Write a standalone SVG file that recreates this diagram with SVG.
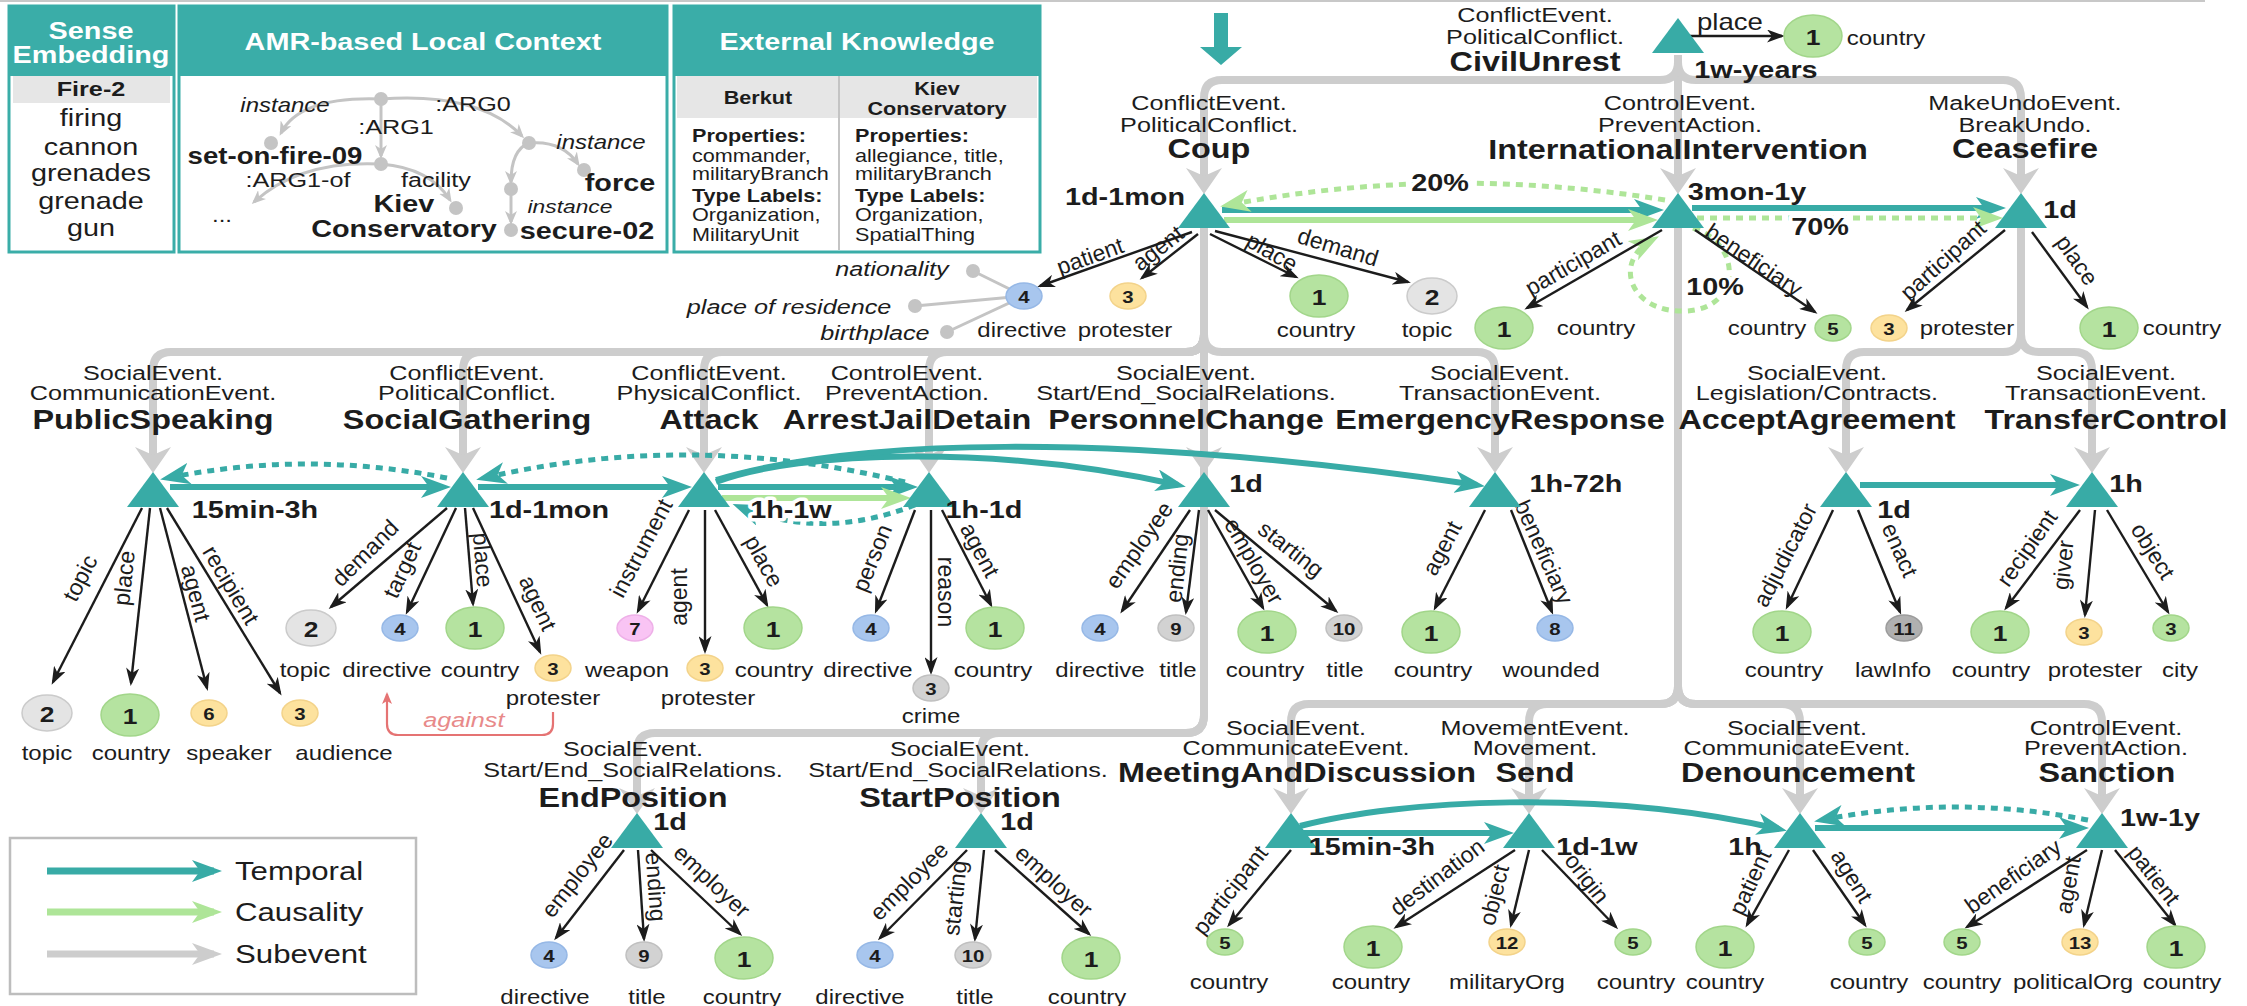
<svg xmlns="http://www.w3.org/2000/svg" width="2247" height="1006" viewBox="0 0 2247 1006">
<defs>
<style>
text{font-family:"Liberation Sans",Arial,Helvetica,sans-serif;fill:#1c1c1c;dominant-baseline:central;text-anchor:middle}
.h{transform-box:fill-box;transform-origin:center;transform:scaleX(1.2)}
.hl{transform-box:fill-box;transform-origin:0 50%;transform:scaleX(1.2);text-anchor:start}
.cat{font-size:21px}
.ev{font-size:27px;font-weight:bold}
.tm{font-size:24px;font-weight:bold}
.nl{font-size:20px}
.el{font-size:23px}
.nb{font-size:22px;font-weight:bold}
.ns{font-size:17px;font-weight:bold}
.it{font-style:italic}
.b{font-weight:bold}
.wh{fill:#fff}
.halo{stroke:#fff;stroke-width:7px;stroke-linejoin:round;paint-order:stroke}
.sub{fill:none;stroke:#cdcdcd;stroke-width:8;marker-end:url(#mG)}
.tp{fill:none;stroke:#38aba6;stroke-width:6;marker-end:url(#mT)}
.tpd{fill:none;stroke:#38aba6;stroke-width:5;stroke-dasharray:7 6;marker-end:url(#mT)}
.cs{fill:none;stroke:#aee598;stroke-width:6;marker-end:url(#mC)}
.csd{fill:none;stroke:#aee598;stroke-width:5;stroke-dasharray:7 6;marker-end:url(#mC)}
.ed{fill:none;stroke:#1c1c1c;stroke-width:2.4;marker-end:url(#mB)}
.amr{fill:none;stroke:#c4c4c4;stroke-width:3;marker-end:url(#mA)}
.att{stroke:#c4c4c4;stroke-width:3}
.dot{fill:#c4c4c4}
.g{fill:#b5e3a0;stroke:#a2d68a;stroke-width:1.5}
.gr{fill:#e4e4e4;stroke:#cbcbcb;stroke-width:1.5}
.gd{fill:#d2d2d2;stroke:#c0c0c0;stroke-width:1.5}
.gk{fill:#b0b0b0;stroke:#9c9c9c;stroke-width:1.5}
.bl{fill:#a8c6ee;stroke:#96b8e6;stroke-width:1.5}
.ye{fill:#fde29e;stroke:#f3d38a;stroke-width:1.5}
.pk{fill:#f9c4f4;stroke:#eeb0e8;stroke-width:1.5}
.tri{fill:#38aba6}
.pn{fill:#fff;stroke:#3aada8;stroke-width:3}
.ph{fill:#3aada8}
.row{fill:#e6e6e6}
</style>
<marker id="mT" viewBox="0 0 30 22" refX="22" refY="11" markerWidth="30" markerHeight="22" orient="auto" markerUnits="userSpaceOnUse"><path d="M0,0 L30,11 L0,22 L8,11 Z" fill="#38aba6"/></marker>
<marker id="mC" viewBox="0 0 30 22" refX="22" refY="11" markerWidth="30" markerHeight="22" orient="auto" markerUnits="userSpaceOnUse"><path d="M0,0 L30,11 L0,22 L8,11 Z" fill="#aee598"/></marker>
<marker id="mG" viewBox="0 0 26 36" refX="18" refY="18" markerWidth="26" markerHeight="36" orient="auto" markerUnits="userSpaceOnUse"><path d="M0,0 L26,18 L0,36 L8,18 Z" fill="#cdcdcd"/></marker>
<marker id="mGL" viewBox="0 0 30 22" refX="22" refY="11" markerWidth="30" markerHeight="22" orient="auto" markerUnits="userSpaceOnUse"><path d="M0,0 L30,11 L0,22 L8,11 Z" fill="#cdcdcd"/></marker>
<marker id="mB" viewBox="0 0 18 13" refX="15" refY="6.5" markerWidth="18" markerHeight="13" orient="auto" markerUnits="userSpaceOnUse"><path d="M0,0 L18,6.5 L0,13 L5,6.5 Z" fill="#1c1c1c"/></marker>
<marker id="mA" viewBox="0 0 14 12" refX="11" refY="6" markerWidth="14" markerHeight="12" orient="auto" markerUnits="userSpaceOnUse"><path d="M0,0 L14,6 L0,12 L4,6 Z" fill="#c4c4c4"/></marker>
<marker id="mR" viewBox="0 0 12 10" refX="10" refY="5" markerWidth="12" markerHeight="10" orient="auto" markerUnits="userSpaceOnUse"><path d="M0,0 L12,5 L0,10 L3,5 Z" fill="#e57373"/></marker>
<path id="tri" d="M0,0 L26,35 L-26,35 Z"/>
</defs>

<rect width="2247" height="1006" fill="#fff"/>
<line x1="0" y1="1" x2="2205" y2="1" stroke="#c8c8c8" stroke-width="2"/>

<!-- panel: sense embedding -->
<g id="panel-sense">
<rect class="pn" x="9" y="6" width="165" height="246"/>
<rect class="ph" x="9" y="6" width="165" height="70"/>
<rect class="row" x="13" y="76" width="157" height="27"/>
<text class="h b wh" font-size="24" x="91" y="31">Sense</text>
<text class="h b wh" font-size="24" x="91" y="55">Embedding</text>
<text class="h b" font-size="21" x="91" y="89">Fire-2</text>
<text class="h" font-size="24" x="91" y="118">firing</text>
<text class="h" font-size="24" x="91" y="147">cannon</text>
<text class="h" font-size="24" x="91" y="173">grenades</text>
<text class="h" font-size="24" x="91" y="201">grenade</text>
<text class="h" font-size="24" x="91" y="228">gun</text>
</g>

<!-- panel: AMR local context -->
<g id="panel-amr">
<rect class="pn" x="179" y="6" width="488" height="246"/>
<rect class="ph" x="179" y="6" width="488" height="70"/>
<text class="h b wh" font-size="24" x="423" y="42">AMR-based Local Context</text>
<path class="amr" d="M381,99 Q300,96 281,133"/>
<path class="amr" d="M381,99 V156"/>
<path class="amr" d="M381,99 Q480,92 522,136"/>
<path class="amr" d="M381,164 Q300,160 254,202"/>
<path class="amr" d="M381,164 Q430,168 450,200"/>
<path class="amr" d="M529,143 Q511,150 511,182"/>
<path class="amr" d="M511,189 V222"/>
<path class="amr" d="M529,143 Q562,140 578,164"/>
<circle class="dot" cx="381" cy="99" r="7"/>
<circle class="dot" cx="271" cy="143" r="7"/>
<circle class="dot" cx="381" cy="164" r="7"/>
<circle class="dot" cx="456" cy="208" r="7"/>
<circle class="dot" cx="529" cy="143" r="7"/>
<circle class="dot" cx="511" cy="189" r="7"/>
<circle class="dot" cx="511" cy="230" r="7"/>
<circle class="dot" cx="584" cy="170" r="7"/>
<text class="h it" font-size="20" x="285" y="105">instance</text>
<text class="h" font-size="21" x="473" y="104">:ARG0</text>
<text class="h" font-size="21" x="396" y="127">:ARG1</text>
<text class="h b" font-size="23" x="275" y="156">set-on-fire-09</text>
<text class="h" font-size="21" x="298" y="180">:ARG1-of</text>
<text class="h" font-size="21" x="436" y="180">facility</text>
<text class="h" font-size="20" x="222" y="215">...</text>
<text class="h b" font-size="24" x="404" y="204">Kiev</text>
<text class="h b" font-size="24" x="404" y="229">Conservatory</text>
<text class="h it" font-size="20" x="601" y="142">instance</text>
<text class="h b" font-size="24" x="620" y="183">force</text>
<text class="h it" font-size="19" x="570" y="206">instance</text>
<text class="h b" font-size="24" x="587" y="231">secure-02</text>
</g>

<!-- panel: external knowledge -->
<g id="panel-knowledge">
<rect class="pn" x="674" y="6" width="366" height="246"/>
<rect class="ph" x="674" y="6" width="366" height="70"/>
<rect class="row" x="677" y="76" width="360" height="42"/>
<line x1="839" y1="76" x2="839" y2="250" stroke="#c4c4c4" stroke-width="2"/>
<text class="h b wh" font-size="24" x="857" y="42">External Knowledge</text>
<text class="h b" font-size="18" x="758" y="98">Berkut</text>
<text class="h b" font-size="18" x="937" y="89">Kiev</text>
<text class="h b" font-size="18" x="937" y="109">Conservatory</text>
<text class="hl b" font-size="18" x="692" y="136">Properties:</text>
<text class="hl" font-size="18" x="692" y="156">commander,</text>
<text class="hl" font-size="18" x="692" y="174">militaryBranch</text>
<text class="hl b" font-size="18" x="692" y="196">Type Labels:</text>
<text class="hl" font-size="18" x="692" y="215">Organization,</text>
<text class="hl" font-size="18" x="692" y="235">MilitaryUnit</text>
<text class="hl b" font-size="18" x="855" y="136">Properties:</text>
<text class="hl" font-size="18" x="855" y="156">allegiance, title,</text>
<text class="hl" font-size="18" x="855" y="174">militaryBranch</text>
<text class="hl b" font-size="18" x="855" y="196">Type Labels:</text>
<text class="hl" font-size="18" x="855" y="215">Organization,</text>
<text class="hl" font-size="18" x="855" y="235">SpatialThing</text>
</g>

<!-- block arrow into the event graph -->
<polygon id="entry-arrow" points="1214,13 1228,13 1228,47 1242,47 1221,65 1200,47 1214,47" fill="#38aba6"/>

<!-- legend -->
<g id="legend">
<rect x="10" y="838" width="406" height="156" fill="#fff" stroke="#bdbdbd" stroke-width="2.5"/>
<path d="M47,871 H214" fill="none" stroke="#38aba6" stroke-width="7" marker-end="url(#mT)"/>
<path d="M47,912 H214" fill="none" stroke="#aee598" stroke-width="7" marker-end="url(#mC)"/>
<path d="M47,954 H214" fill="none" stroke="#cdcdcd" stroke-width="7" marker-end="url(#mGL)"/>
<text class="hl" font-size="26" x="235" y="871">Temporal</text>
<text class="hl" font-size="26" x="235" y="912">Causality</text>
<text class="hl" font-size="26" x="235" y="954">Subevent</text>
</g>

<!-- connectors -->
<g id="connectors">
<!-- subevent hierarchy -->
<path class="sub" d="M1678,55 V186"/>
<path class="sub" d="M1678,62 Q1678,80 1660,80 H1222 Q1204,80 1204,98 V186"/>
<path class="sub" d="M1678,62 Q1678,80 1696,80 H2003 Q2021,80 2021,98 V186"/>
<path class="sub" d="M1204,228 V334 Q1204,352 1186,352 H171 Q153,352 153,370 V465"/>
<path class="sub" d="M1204,334 Q1204,352 1186,352 H481 Q463,352 463,370 V465"/>
<path class="sub" d="M1204,334 Q1204,352 1186,352 H722 Q704,352 704,370 V465"/>
<path class="sub" d="M1204,334 Q1204,352 1186,352 H947 Q929,352 929,370 V465"/>
<path class="sub" d="M1204,228 V465"/>
<path class="sub" d="M1204,334 Q1204,352 1222,352 H1477 Q1495,352 1495,370 V465"/>
<path class="sub" d="M1204,228 V715 Q1204,733 1186,733 H999 Q981,733 981,751 V806"/>
<path class="sub" d="M1204,715 Q1204,733 1186,733 H655 Q637,733 637,751 V806"/>
<path class="sub" d="M2021,228 V334 Q2021,352 2003,352 H1864 Q1846,352 1846,370 V465"/>
<path class="sub" d="M2021,334 Q2021,352 2039,352 H2074 Q2092,352 2092,370 V465"/>
<path class="sub" d="M1678,228 V686 Q1678,704 1660,704 H1309 Q1291,704 1291,722 V806"/>
<path class="sub" d="M1678,686 Q1678,704 1660,704 H1547 Q1529,704 1529,722 V806"/>
<path class="sub" d="M1678,686 Q1678,704 1696,704 H1782 Q1800,704 1800,722 V806"/>
<path class="sub" d="M1678,686 Q1678,704 1696,704 H2084 Q2102,704 2102,722 V806"/>

<!-- temporal -->
<path class="tp" d="M1222,210 H1656"/>
<path class="tp" d="M1692,208 H1998"/>
<path class="tp" d="M170,487 H443"/>
<path class="tp" d="M478,487 H684"/>
<path class="tp" d="M718,487 H910"/>
<path class="tp" d="M716,482 C800,450 1000,445 1178,485"/>
<path class="tp" d="M716,480 C850,440 1100,430 1477,485"/>
<path class="tp" d="M1860,485 H2072"/>
<path class="tp" d="M1302,833 H1506"/>
<path class="tp" d="M1300,826 C1400,800 1600,788 1779,829"/>
<path class="tp" d="M1815,828 H2081"/>
<path class="tpd" d="M447,478 Q305,450 168,478"/>
<path class="tpd" d="M905,482 Q690,430 484,478"/>
<path class="tpd" d="M915,505 Q823,541 740,507"/>
<path class="tpd" d="M2088,820 Q1955,794 1822,820"/>

<!-- causality -->
<path class="cs" d="M1224,220 H1650"/>
<path class="cs" d="M722,498 H903"/>
<path class="csd" d="M1665,200 Q1443,164 1228,205"/>
<path class="csd" d="M1697,218 H1995"/>
<path class="csd" d="M1693,228 C1745,245 1740,310 1685,311 C1630,313 1612,262 1652,240"/>

<!-- attributes of the directive -->
<line class="att" x1="1024" y1="296" x2="973" y2="271"/>
<line class="att" x1="1024" y1="296" x2="915" y2="306"/>
<line class="att" x1="1024" y1="296" x2="947" y2="332"/>
<circle class="dot" cx="973" cy="271" r="7"/>
<circle class="dot" cx="915" cy="306" r="7"/>
<circle class="dot" cx="947" cy="332" r="7"/>

<!-- argument roles -->
<path class="ed" d="M1192,232 L1040,286"/>
<path class="ed" d="M1198,234 L1142,278"/>
<path class="ed" d="M1210,234 L1296,277"/>
<path class="ed" d="M1215,231 L1408,282"/>
<path class="ed" d="M1690,36 L1782,36"/>
<path class="ed" d="M1662,230 L1527,308"/>
<path class="ed" d="M1695,230 L1815,312"/>
<path class="ed" d="M2005,230 L1907,310"/>
<path class="ed" d="M2032,232 L2087,307"/>
<path class="ed" d="M142,508 L53,682"/>
<path class="ed" d="M150,508 L131,683"/>
<path class="ed" d="M160,508 L207,688"/>
<path class="ed" d="M167,508 L280,693"/>
<path class="ed" d="M447,508 L331,607"/>
<path class="ed" d="M456,508 L407,612"/>
<path class="ed" d="M465,508 L473,604"/>
<path class="ed" d="M473,508 L540,652"/>
<path class="ed" d="M689,510 L638,611"/>
<path class="ed" d="M705,510 L705,651"/>
<path class="ed" d="M715,510 L767,605"/>
<path class="ed" d="M915,510 L876,611"/>
<path class="ed" d="M931,510 L931,672"/>
<path class="ed" d="M942,510 L991,605"/>
<path class="ed" d="M1190,510 L1122,611"/>
<path class="ed" d="M1199,510 L1186,612"/>
<path class="ed" d="M1208,510 L1263,608"/>
<path class="ed" d="M1215,510 L1336,611"/>
<path class="ed" d="M1485,510 L1435,608"/>
<path class="ed" d="M1511,510 L1552,612"/>
<path class="ed" d="M1833,510 L1787,607"/>
<path class="ed" d="M1858,510 L1900,612"/>
<path class="ed" d="M2080,510 L2006,608"/>
<path class="ed" d="M2095,510 L2085,615"/>
<path class="ed" d="M2107,510 L2168,612"/>
<path class="ed" d="M624,850 L556,938"/>
<path class="ed" d="M638,850 L644,939"/>
<path class="ed" d="M651,850 L740,934"/>
<path class="ed" d="M967,850 L880,938"/>
<path class="ed" d="M984,850 L975,939"/>
<path class="ed" d="M995,850 L1089,934"/>
<path class="ed" d="M1291,850 L1229,925"/>
<path class="ed" d="M1515,850 L1396,927"/>
<path class="ed" d="M1529,850 L1511,925"/>
<path class="ed" d="M1542,850 L1616,927"/>
<path class="ed" d="M1789,850 L1747,925"/>
<path class="ed" d="M1813,850 L1865,925"/>
<path class="ed" d="M2087,850 L1967,927"/>
<path class="ed" d="M2102,850 L2084,925"/>
<path class="ed" d="M2115,850 L2175,925"/>

<!-- against relation -->
<path d="M553,712 V724 Q553,735 542,735 H398 Q387,735 387,724 V694" fill="none" stroke="#e57373" stroke-width="2.2" marker-end="url(#mR)"/>

<!-- role labels -->
<g class="el">
<text transform="translate(1090,256) rotate(-20)">patient</text>
<text transform="translate(1158,248) rotate(-38)">agent</text>
<text transform="translate(1272,252) rotate(30)">place</text>
<text transform="translate(1338,247) rotate(17)">demand</text>
<text class="h" x="1730" y="22">place</text>
<text transform="translate(1573,263) rotate(-30)">participant</text>
<text transform="translate(1754,260) rotate(34)">beneficiary</text>
<text transform="translate(1943,260) rotate(-42)">participant</text>
<text transform="translate(2077,260) rotate(55)">place</text>
<text transform="translate(80,578) rotate(-63)">topic</text>
<text transform="translate(124,578) rotate(-84)">place</text>
<text transform="translate(196,593) rotate(75)">agent</text>
<text transform="translate(231,585) rotate(59)">recipient</text>
<text transform="translate(365,553) rotate(-45)">demand</text>
<text transform="translate(402,570) rotate(-65)">target</text>
<text transform="translate(483,560) rotate(85)">place</text>
<text transform="translate(538,603) rotate(65)">agent</text>
<text transform="translate(641,548) rotate(-62)">instrument</text>
<text transform="translate(679,597) rotate(-90)">agent</text>
<text transform="translate(764,561) rotate(61)">place</text>
<text transform="translate(872,558) rotate(-68)">person</text>
<text transform="translate(946,592) rotate(90)">reason</text>
<text transform="translate(980,550) rotate(62)">agent</text>
<text transform="translate(1139,545) rotate(-55)">employee</text>
<text transform="translate(1177,568) rotate(-84)">ending</text>
<text transform="translate(1254,561) rotate(60)">employer</text>
<text transform="translate(1291,549) rotate(38)">starting</text>
<text transform="translate(1442,548) rotate(-62)">agent</text>
<text transform="translate(1544,552) rotate(66)">beneficiary</text>
<text transform="translate(1785,555) rotate(-63)">adjudicator</text>
<text transform="translate(1900,550) rotate(66)">enact</text>
<text transform="translate(2027,548) rotate(-55)">recipient</text>
<text transform="translate(2063,565) rotate(-84)">giver</text>
<text transform="translate(2153,551) rotate(58)">object</text>
<text transform="translate(577,875) rotate(-52)">employee</text>
<text transform="translate(656,887) rotate(86)">ending</text>
<text transform="translate(712,881) rotate(43)">employer</text>
<text transform="translate(909,881) rotate(-45)">employee</text>
<text transform="translate(955,898) rotate(-84)">starting</text>
<text transform="translate(1054,881) rotate(42)">employer</text>
<text transform="translate(1230,890) rotate(-52)">participant</text>
<text transform="translate(1437,877) rotate(-37)">destination</text>
<text transform="translate(1494,895) rotate(-76)">object</text>
<text transform="translate(1587,878) rotate(52)">origin</text>
<text transform="translate(1750,882) rotate(-65)">patient</text>
<text transform="translate(1852,876) rotate(58)">agent</text>
<text transform="translate(2013,876) rotate(-35)">beneficiary</text>
<text transform="translate(2068,885) rotate(-80)">agent</text>
<text transform="translate(2154,875) rotate(52)">patient</text>
</g>
<text class="h it" font-size="21" x="464" y="720" style="fill:#e88a8a">against</text>
<text class="h it" font-size="21" x="892" y="269">nationality</text>
<text class="h it" font-size="21" x="789" y="307">place of residence</text>
<text class="h it" font-size="21" x="875" y="333">birthplace</text>
<text class="tm h halo" x="1440" y="183">20%</text>
<text class="tm h halo" x="1820" y="227">70%</text>
<text class="tm h halo" x="1715" y="287">10%</text>
</g>

<!-- event nodes -->
<g id="ev-civilunrest"><use href="#tri" class="tri" x="1678" y="18"/>
<text class="cat h" x="1535" y="15">ConflictEvent.</text><text class="cat h" x="1535" y="37">PoliticalConflict.</text><text class="ev h" x="1535" y="62">CivilUnrest</text><text class="tm h" x="1756" y="70">1w-years</text></g>
<g id="ev-coup"><use href="#tri" class="tri" x="1204" y="193"/>
<text class="cat h" x="1209" y="103">ConflictEvent.</text><text class="cat h" x="1209" y="125">PoliticalConflict.</text><text class="ev h" x="1209" y="149">Coup</text><text class="tm h" x="1125" y="197">1d-1mon</text></g>
<g id="ev-intervention"><use href="#tri" class="tri" x="1678" y="193"/>
<text class="cat h" x="1680" y="103">ControlEvent.</text><text class="cat h" x="1680" y="125">PreventAction.</text><text class="ev h" x="1678" y="150">InternationalIntervention</text><text class="tm h" x="1747" y="192">3mon-1y</text></g>
<g id="ev-ceasefire"><use href="#tri" class="tri" x="2021" y="193"/>
<text class="cat h" x="2025" y="103">MakeUndoEvent.</text><text class="cat h" x="2025" y="125">BreakUndo.</text><text class="ev h" x="2025" y="148">Ceasefire</text><text class="tm h" x="2060" y="210">1d</text></g>

<g id="ev-publicspeaking"><use href="#tri" class="tri" x="153" y="472"/>
<text class="cat h" x="153" y="373">SocialEvent.</text><text class="cat h" x="153" y="393">CommunicationEvent.</text><text class="ev h" x="153" y="420">PublicSpeaking</text><text class="tm h" x="255" y="510">15min-3h</text></g>
<g id="ev-socialgathering"><use href="#tri" class="tri" x="463" y="472"/>
<text class="cat h" x="467" y="373">ConflictEvent.</text><text class="cat h" x="467" y="393">PoliticalConflict.</text><text class="ev h" x="467" y="420">SocialGathering</text><text class="tm h" x="549" y="510">1d-1mon</text></g>
<g id="ev-attack"><use href="#tri" class="tri" x="704" y="472"/>
<text class="cat h" x="709" y="373">ConflictEvent.</text><text class="cat h" x="709" y="393">PhysicalConflict.</text><text class="ev h" x="709" y="420">Attack</text><text class="tm h halo" x="791" y="510">1h-1w</text></g>
<g id="ev-arrest"><use href="#tri" class="tri" x="929" y="472"/>
<text class="cat h" x="907" y="373">ControlEvent.</text><text class="cat h" x="907" y="393">PreventAction.</text><text class="ev h" x="907" y="420">ArrestJailDetain</text><text class="tm h" x="984" y="510">1h-1d</text></g>
<g id="ev-personnelchange"><use href="#tri" class="tri" x="1204" y="472"/>
<text class="cat h" x="1186" y="373">SocialEvent.</text><text class="cat h" x="1186" y="393">Start/End_SocialRelations.</text><text class="ev h" x="1186" y="420">PersonnelChange</text><text class="tm h" x="1246" y="484">1d</text></g>
<g id="ev-emergency"><use href="#tri" class="tri" x="1495" y="472"/>
<text class="cat h" x="1500" y="373">SocialEvent.</text><text class="cat h" x="1500" y="393">TransactionEvent.</text><text class="ev h" x="1500" y="420">EmergencyResponse</text><text class="tm h" x="1576" y="484">1h-72h</text></g>
<g id="ev-acceptagreement"><use href="#tri" class="tri" x="1846" y="472"/>
<text class="cat h" x="1817" y="373">SocialEvent.</text><text class="cat h" x="1817" y="393">Legislation/Contracts.</text><text class="ev h" x="1817" y="420">AcceptAgreement</text><text class="tm h" x="1894" y="510">1d</text></g>
<g id="ev-transfercontrol"><use href="#tri" class="tri" x="2092" y="472"/>
<text class="cat h" x="2106" y="373">SocialEvent.</text><text class="cat h" x="2106" y="393">TransactionEvent.</text><text class="ev h" x="2106" y="420">TransferControl</text><text class="tm h" x="2126" y="484">1h</text></g>

<g id="ev-endposition"><use href="#tri" class="tri" x="637" y="813"/>
<text class="cat h" x="633" y="749">SocialEvent.</text><text class="cat h" x="633" y="770">Start/End_SocialRelations.</text><text class="ev h" x="633" y="797">EndPosition</text><text class="tm h" x="670" y="822">1d</text></g>
<g id="ev-startposition"><use href="#tri" class="tri" x="981" y="813"/>
<text class="cat h" x="960" y="749">SocialEvent.</text><text class="cat h" x="958" y="770">Start/End_SocialRelations.</text><text class="ev h" x="960" y="797">StartPosition</text><text class="tm h" x="1017" y="822">1d</text></g>
<g id="ev-meeting"><use href="#tri" class="tri" x="1291" y="813"/>
<text class="cat h" x="1296" y="728">SocialEvent.</text><text class="cat h" x="1296" y="748">CommunicateEvent.</text><text class="ev h" x="1297" y="773">MeetingAndDiscussion</text><text class="tm h" x="1372" y="847">15min-3h</text></g>
<g id="ev-send"><use href="#tri" class="tri" x="1529" y="813"/>
<text class="cat h" x="1535" y="728">MovementEvent.</text><text class="cat h" x="1535" y="748">Movement.</text><text class="ev h" x="1535" y="773">Send</text><text class="tm h" x="1597" y="847">1d-1w</text></g>
<g id="ev-denouncement"><use href="#tri" class="tri" x="1800" y="813"/>
<text class="cat h" x="1797" y="728">SocialEvent.</text><text class="cat h" x="1797" y="748">CommunicateEvent.</text><text class="ev h" x="1798" y="773">Denouncement</text><text class="tm h" x="1745" y="847">1h</text></g>
<g id="ev-sanction"><use href="#tri" class="tri" x="2102" y="813"/>
<text class="cat h" x="2106" y="728">ControlEvent.</text><text class="cat h" x="2106" y="748">PreventAction.</text><text class="ev h" x="2107" y="773">Sanction</text><text class="tm h" x="2160" y="818">1w-1y</text></g>

<!-- argument nodes -->
<g id="arg-cu-country"><ellipse class="g" cx="1813" cy="36" rx="29" ry="21"/><text class="nb h" x="1813" y="37">1</text><text class="nl h" x="1886" y="38">country</text></g>
<g id="arg-coup-directive"><ellipse class="bl" cx="1024" cy="296" rx="18" ry="13"/><text class="ns h" x="1024" y="297">4</text><text class="nl h" x="1022" y="330">directive</text></g>
<g id="arg-coup-protester"><ellipse class="ye" cx="1128" cy="296" rx="18" ry="13"/><text class="ns h" x="1128" y="297">3</text><text class="nl h" x="1125" y="330">protester</text></g>
<g id="arg-coup-country"><ellipse class="g" cx="1319" cy="296" rx="29" ry="21"/><text class="nb h" x="1319" y="297">1</text><text class="nl h" x="1316" y="330">country</text></g>
<g id="arg-coup-topic"><ellipse class="gr" cx="1432" cy="296" rx="25" ry="18"/><text class="nb h" x="1432" y="297">2</text><text class="nl h" x="1427" y="330">topic</text></g>
<g id="arg-ii-country"><ellipse class="g" cx="1504" cy="328" rx="29" ry="21"/><text class="nb h" x="1504" y="329">1</text><text class="nl h" x="1596" y="328">country</text></g>
<g id="arg-ii-beneficiary"><ellipse class="g" cx="1833" cy="328" rx="18" ry="13"/><text class="ns h" x="1833" y="329">5</text><text class="nl h" x="1767" y="328">country</text></g>
<g id="arg-cf-protester"><ellipse class="ye" cx="1889" cy="328" rx="18" ry="13"/><text class="ns h" x="1889" y="329">3</text><text class="nl h" x="1967" y="328">protester</text></g>
<g id="arg-cf-country"><ellipse class="g" cx="2109" cy="328" rx="29" ry="21"/><text class="nb h" x="2109" y="329">1</text><text class="nl h" x="2182" y="328">country</text></g>

<g id="arg-ps-topic"><ellipse class="gr" cx="47" cy="713" rx="25" ry="18"/><text class="nb h" x="47" y="714">2</text><text class="nl h" x="47" y="753">topic</text></g>
<g id="arg-ps-country"><ellipse class="g" cx="130" cy="715" rx="29" ry="21"/><text class="nb h" x="130" y="716">1</text><text class="nl h" x="131" y="753">country</text></g>
<g id="arg-ps-speaker"><ellipse class="ye" cx="209" cy="713" rx="18" ry="13"/><text class="ns h" x="209" y="714">6</text><text class="nl h" x="229" y="753">speaker</text></g>
<g id="arg-ps-audience"><ellipse class="ye" cx="300" cy="713" rx="18" ry="13"/><text class="ns h" x="300" y="714">3</text><text class="nl h" x="344" y="753">audience</text></g>
<g id="arg-sg-topic"><ellipse class="gr" cx="311" cy="628" rx="25" ry="18"/><text class="nb h" x="311" y="629">2</text><text class="nl h" x="305" y="670">topic</text></g>
<g id="arg-sg-directive"><ellipse class="bl" cx="400" cy="628" rx="18" ry="13"/><text class="ns h" x="400" y="629">4</text><text class="nl h" x="387" y="670">directive</text></g>
<g id="arg-sg-country"><ellipse class="g" cx="475" cy="628" rx="29" ry="21"/><text class="nb h" x="475" y="629">1</text><text class="nl h" x="480" y="670">country</text></g>
<g id="arg-sg-protester"><ellipse class="ye" cx="553" cy="668" rx="18" ry="13"/><text class="ns h" x="553" y="669">3</text><text class="nl h" x="553" y="698">protester</text></g>
<g id="arg-at-weapon"><ellipse class="pk" cx="635" cy="628" rx="18" ry="13"/><text class="ns h" x="635" y="629">7</text><text class="nl h" x="627" y="670">weapon</text></g>
<g id="arg-at-protester"><ellipse class="ye" cx="705" cy="668" rx="18" ry="13"/><text class="ns h" x="705" y="669">3</text><text class="nl h" x="708" y="698">protester</text></g>
<g id="arg-at-country"><ellipse class="g" cx="773" cy="628" rx="29" ry="21"/><text class="nb h" x="773" y="629">1</text><text class="nl h" x="774" y="670">country</text></g>
<g id="arg-aj-directive"><ellipse class="bl" cx="871" cy="628" rx="18" ry="13"/><text class="ns h" x="871" y="629">4</text><text class="nl h" x="868" y="670">directive</text></g>
<g id="arg-aj-crime"><ellipse class="gd" cx="931" cy="688" rx="18" ry="13"/><text class="ns h" x="931" y="689">3</text><text class="nl h" x="931" y="716">crime</text></g>
<g id="arg-aj-country"><ellipse class="g" cx="995" cy="628" rx="29" ry="21"/><text class="nb h" x="995" y="629">1</text><text class="nl h" x="993" y="670">country</text></g>
<g id="arg-pc-directive"><ellipse class="bl" cx="1100" cy="628" rx="18" ry="13"/><text class="ns h" x="1100" y="629">4</text><text class="nl h" x="1100" y="670">directive</text></g>
<g id="arg-pc-title1"><ellipse class="gd" cx="1176" cy="628" rx="18" ry="13"/><text class="ns h" x="1176" y="629">9</text><text class="nl h" x="1178" y="670">title</text></g>
<g id="arg-pc-country"><ellipse class="g" cx="1267" cy="632" rx="29" ry="21"/><text class="nb h" x="1267" y="633">1</text><text class="nl h" x="1265" y="670">country</text></g>
<g id="arg-pc-title2"><ellipse class="gd" cx="1344" cy="628" rx="18" ry="13"/><text class="ns h" x="1344" y="629">10</text><text class="nl h" x="1345" y="670">title</text></g>
<g id="arg-er-country"><ellipse class="g" cx="1431" cy="632" rx="29" ry="21"/><text class="nb h" x="1431" y="633">1</text><text class="nl h" x="1433" y="670">country</text></g>
<g id="arg-er-wounded"><ellipse class="bl" cx="1555" cy="628" rx="18" ry="13"/><text class="ns h" x="1555" y="629">8</text><text class="nl h" x="1551" y="670">wounded</text></g>
<g id="arg-aa-country"><ellipse class="g" cx="1782" cy="632" rx="29" ry="21"/><text class="nb h" x="1782" y="633">1</text><text class="nl h" x="1784" y="670">country</text></g>
<g id="arg-aa-lawinfo"><ellipse class="gk" cx="1904" cy="628" rx="18" ry="13"/><text class="ns h" x="1904" y="629">11</text><text class="nl h" x="1893" y="670">lawInfo</text></g>
<g id="arg-tc-country"><ellipse class="g" cx="2000" cy="632" rx="29" ry="21"/><text class="nb h" x="2000" y="633">1</text><text class="nl h" x="1991" y="670">country</text></g>
<g id="arg-tc-protester"><ellipse class="ye" cx="2084" cy="632" rx="18" ry="13"/><text class="ns h" x="2084" y="633">3</text><text class="nl h" x="2095" y="670">protester</text></g>
<g id="arg-tc-city"><ellipse class="g" cx="2171" cy="628" rx="18" ry="13"/><text class="ns h" x="2171" y="629">3</text><text class="nl h" x="2180" y="670">city</text></g>

<g id="arg-ep-directive"><ellipse class="bl" cx="549" cy="955" rx="18" ry="13"/><text class="ns h" x="549" y="956">4</text><text class="nl h" x="545" y="997">directive</text></g>
<g id="arg-ep-title"><ellipse class="gd" cx="644" cy="955" rx="18" ry="13"/><text class="ns h" x="644" y="956">9</text><text class="nl h" x="647" y="997">title</text></g>
<g id="arg-ep-country"><ellipse class="g" cx="744" cy="958" rx="29" ry="21"/><text class="nb h" x="744" y="959">1</text><text class="nl h" x="742" y="997">country</text></g>
<g id="arg-sp-directive"><ellipse class="bl" cx="875" cy="955" rx="18" ry="13"/><text class="ns h" x="875" y="956">4</text><text class="nl h" x="860" y="997">directive</text></g>
<g id="arg-sp-title"><ellipse class="gd" cx="973" cy="955" rx="18" ry="13"/><text class="ns h" x="973" y="956">10</text><text class="nl h" x="975" y="997">title</text></g>
<g id="arg-sp-country"><ellipse class="g" cx="1091" cy="958" rx="29" ry="21"/><text class="nb h" x="1091" y="959">1</text><text class="nl h" x="1087" y="997">country</text></g>
<g id="arg-md-country"><ellipse class="g" cx="1225" cy="942" rx="18" ry="13"/><text class="ns h" x="1225" y="943">5</text><text class="nl h" x="1229" y="982">country</text></g>
<g id="arg-sd-destination"><ellipse class="g" cx="1373" cy="947" rx="29" ry="21"/><text class="nb h" x="1373" y="948">1</text><text class="nl h" x="1371" y="982">country</text></g>
<g id="arg-sd-military"><ellipse class="ye" cx="1507" cy="942" rx="18" ry="13"/><text class="ns h" x="1507" y="943">12</text><text class="nl h" x="1507" y="982">militaryOrg</text></g>
<g id="arg-sd-origin"><ellipse class="g" cx="1633" cy="942" rx="18" ry="13"/><text class="ns h" x="1633" y="943">5</text><text class="nl h" x="1636" y="982">country</text></g>
<g id="arg-dn-patient"><ellipse class="g" cx="1725" cy="947" rx="29" ry="21"/><text class="nb h" x="1725" y="948">1</text><text class="nl h" x="1725" y="982">country</text></g>
<g id="arg-dn-agent"><ellipse class="g" cx="1867" cy="942" rx="18" ry="13"/><text class="ns h" x="1867" y="943">5</text><text class="nl h" x="1869" y="982">country</text></g>
<g id="arg-sn-beneficiary"><ellipse class="g" cx="1962" cy="942" rx="18" ry="13"/><text class="ns h" x="1962" y="943">5</text><text class="nl h" x="1962" y="982">country</text></g>
<g id="arg-sn-agent"><ellipse class="ye" cx="2080" cy="942" rx="18" ry="13"/><text class="ns h" x="2080" y="943">13</text><text class="nl h" x="2073" y="982">politicalOrg</text></g>
<g id="arg-sn-patient"><ellipse class="g" cx="2176" cy="947" rx="29" ry="21"/><text class="nb h" x="2176" y="948">1</text><text class="nl h" x="2182" y="982">country</text></g>
</svg>
